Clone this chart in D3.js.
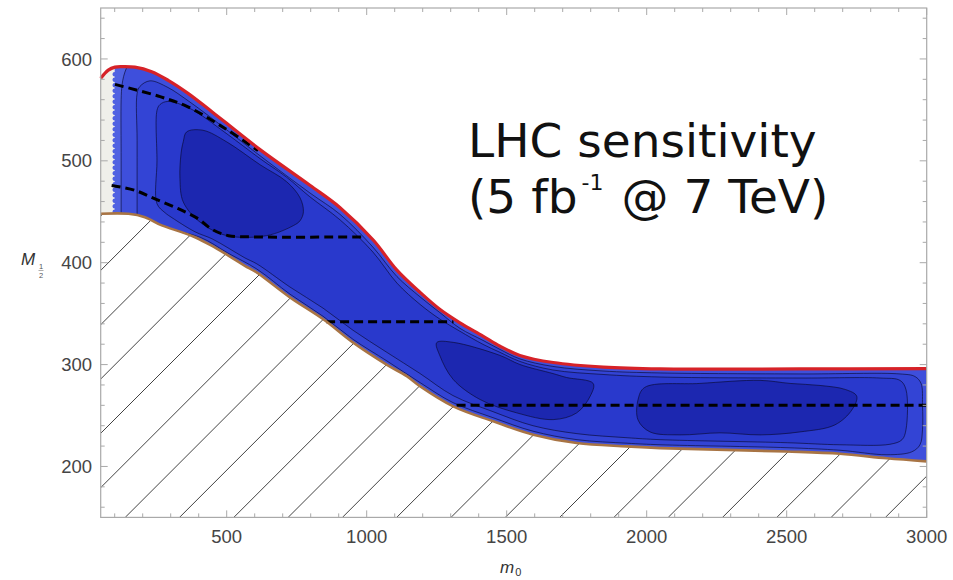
<!DOCTYPE html>
<html><head><meta charset="utf-8">
<script src="https://cdn.jsdelivr.net/npm/d3@7"></script>
<style>body{margin:0;background:#fff;} svg{display:block}</style>
</head><body>
<svg id="chart" width="953" height="580"></svg>
<script>
// ---------------- data (m0, M1/2) ----------------
const xTicks = [500, 1000, 1500, 2000, 2500, 3000];
const yTicks = [200, 300, 400, 500, 600];
const xDomain = [50, 3000];
const yDomain = [150, 650];

// red upper edge of the sensitivity band
const upperBoundary = [[50,581],[77,589],[101,592],[125,592.5],[172,592],[232,587.5],[291,579],[363,566],[434,551],[494,538],[619,511],[797,476],[905,454],[1024,422],[1107,393],[1190,371],[1262,354],[1333,341],[1415,328],[1476,318],[1547,309],[1666,302],[1845,297.5],[2048,295.7],[2548,295.7],[3000,296]];
// brown lower edge (excluded region below)
const lowerBoundary = [[50,448],[149,448],[208,444.7],[268,436.6],[339,430],[387,425],[446,416.7],[506,407],[565,397],[607,390.5],[726,366],[845,344.5],[952,321.5],[1071,300],[1143,288.6],[1190,278.8],[1309,259],[1452,244.3],[1595,231.2],[1750,223],[1929,219.7],[2048,218],[2500,214.7],[2690,212.5],[2857,208],[3000,205]];

// filled contour levels (outer to inner)
const contour1 = [[123,300],[123,420],[123,500],[123,560],[126,574],[132,583],[142,591],[160,600],[400,600],[3010,600],[3010,430],[3010,150],[1500,150],[123,150]];
const contour2 = [[180,300],[180,445],[180,520],[180,566],[190,573],[226,578.5],[290,572],[362,559],[434,544.5],[494,531.7],[619,505],[797,468.5],[905,447.4],[1022,415.4],[1108,386.4],[1190,366.6],[1262,350.9],[1333,335.6],[1415,323.8],[1476,314.9],[1547,305.6],[1665,298.2],[1844,293.7],[2048,291.8],[2548,290.8],[2905,290.8],[2958,288.3],[2980,281.4],[2985,260],[2985,236],[2976,221.3],[2947,214.4],[2858,211.5],[2690,215.9],[2501,218.4],[2048,221.3],[1930,222.8],[1751,226.3],[1594,234.6],[1451,247.9],[1308,262.7],[1190,282.4],[1072,303.6],[951,324.8],[844,347.4],[726,369.1],[608,393.7],[504,409.5],[405,425],[298,432],[226,435],[190,300]];
const contour3 = [[251,457.9],[251,500],[251,549.4],[262,555.3],[290,558.3],[369,551.4],[494,527.8],[619,502.2],[714,483.9],[797,464.7],[905,442],[1022,410.5],[1108,380],[1190,359.2],[1262,344.5],[1333,332.7],[1415,319.9],[1476,312],[1547,303.1],[1665,294.7],[1844,290.3],[2048,287.8],[2548,286.8],[2833,286.8],[2905,284.4],[2926,275.5],[2926,236.1],[2912,226.3],[2869,221.8],[2690,221.3],[2502,223.3],[2048,226.3],[1930,228.2],[1751,232.2],[1594,240],[1451,253.8],[1308,269.6],[1190,291.3],[1072,312],[951,333.7],[844,355.4],[726,376.1],[608,398.8],[565,404.7],[505,414.5],[448,423.4],[387,430.3],[305,444.1],[280,449]];
const island1 = [[357,528.4],[415,530],[500,518.6],[619,496.2],[714,479.5],[762,463.7],[774,450],[762,441.2],[738,436.4],[643,426.6],[500,426.6],[405,439.8],[345,459.5],[333,482.6],[337,507.2],[345,518.9]];
const island2 = [[1250,321.5],[1309,321.8],[1476,309],[1547,300.1],[1665,291.2],[1714,287.3],[1809,281.4],[1798,268.9],[1750,252.6],[1666,246],[1536,252.6],[1405,265.7],[1309,285.4],[1262,308.3]];
const island3 = [[1993,277.6],[2190,281.5],[2405,284.5],[2512,281.5],[2619,279.5],[2709,275.6],[2750,269],[2733,255.6],[2672,240.8],[2547,233.9],[2405,231],[2262,233],[2119,231],[2012,233.9],[1969,245.7],[1969,265.4]];

// dashed lines
const dashed1 = [[101,575],[262,563],[358,553.4],[494,531.8],[612,510]];
const dashed2 = [[89,475.8],[172.5,471],[244,462.6],[327,453],[399,443],[446,433],[506,426.5],[601,425.3],[983,425.3]];
const dashed3 = [[855,342],[1310,342]];
const dashed4 = [[1321,260],[3000,260]];

const bandEdgeM0 = 100;   // left edge of the coloured band

const levelColors = ["#5062e2", "#3e4fdc", "#3344d5", "#2939cc", "#1c27b0"];

// ---------------- drawing ----------------
const svg = d3.select('#chart');
const L = 100.7, R = 926.7, T = 8, B = 517.4;
const x = d3.scaleLinear().domain(xDomain).range([L, R]);
const y = d3.scaleLinear().domain(yDomain).range([B, T]);

const lineCR = d3.line().x(d => x(d[0])).y(d => y(d[1])).curve(d3.curveCatmullRom.alpha(0.5));
const closedCR = d3.line().x(d => x(d[0])).y(d => y(d[1])).curve(d3.curveCatmullRomClosed.alpha(0.5));
const straight = d3.line().x(d => x(d[0])).y(d => y(d[1]));

const upperPath = lineCR(upperBoundary);
const lowerPath = lineCR(lowerBoundary);
const bandPath = upperPath + 'L' + lineCR(lowerBoundary.slice().reverse()).slice(1) + 'Z';
const belowPath = lowerPath + `L${x(xDomain[1])},${y(yDomain[0])}L${x(xDomain[0])},${y(yDomain[0])}Z`;

const defs = svg.append('defs');
defs.append('clipPath').attr('id', 'bandClip').append('path').attr('d', bandPath);
defs.append('clipPath').attr('id', 'belowClip').append('path').attr('d', belowPath);
defs.append('clipPath').attr('id', 'plotClip').append('rect')
  .attr('x', L).attr('y', T).attr('width', R - L).attr('height', B - T);
defs.append('clipPath').attr('id', 'blueClip').append('rect')
  .attr('x', x(bandEdgeM0)).attr('y', T).attr('width', R - x(bandEdgeM0)).attr('height', B - T);

// hatching of the excluded region
const hatch = svg.append('g').attr('clip-path', 'url(#plotClip)')
  .append('g').attr('clip-path', 'url(#belowClip)');
const step = 54.3, c0 = 588.3;
for (let k = -12; k <= 18; k++) {
  const c = c0 + step * k;
  hatch.append('line')
    .attr('x1', c - B).attr('y1', B)
    .attr('x2', c - T).attr('y2', T)
    .attr('stroke', '#111').attr('stroke-width', 0.8);
}

// band
const band = svg.append('g').attr('clip-path', 'url(#bandClip)');
band.append('rect').attr('x', L).attr('y', T).attr('width', R - L).attr('height', B - T).attr('fill', '#efefea');
const blue = band.append('g').attr('clip-path', 'url(#blueClip)');
blue.append('rect').attr('x', L).attr('y', T).attr('width', R - L).attr('height', B - T).attr('fill', levelColors[0]);

const contourStyle = sel => sel.attr('stroke', '#0a0a30').attr('stroke-width', 0.8).attr('stroke-opacity', 0.8);
[[contour1, 1], [contour2, 2], [contour3, 3], [island1, 4], [island2, 4], [island3, 4]].forEach(([pts, lvl]) => {
  blue.append('path').attr('d', closedCR(pts)).attr('fill', levelColors[lvl]).call(contourStyle);
});

// speckled left edge of the coloured band
band.append('line')
  .attr('x1', x(bandEdgeM0)).attr('x2', x(bandEdgeM0))
  .attr('y1', y(lowerBoundary[0][1]) - 2).attr('y2', y(upperBoundary[2][1]) + 4)
  .attr('stroke', levelColors[0]).attr('stroke-width', 4.5)
  .attr('stroke-linecap', 'round').attr('stroke-dasharray', '0 5.5');

// dashed lines
const dashG = svg.append('g').attr('clip-path', 'url(#plotClip)');
[dashed1, dashed2].forEach(d => dashG.append('path').attr('d', lineCR(d)));
[dashed3, dashed4].forEach(d => dashG.append('path').attr('d', straight(d)));
dashG.selectAll('path').attr('fill', 'none').attr('stroke', '#000').attr('stroke-width', 3)
  .attr('stroke-dasharray', '9,5');

// boundaries
svg.append('path').attr('d', lowerPath).attr('fill', 'none').attr('stroke', '#a87444').attr('stroke-width', 2.6);
svg.append('path').attr('d', upperPath).attr('fill', 'none').attr('stroke', '#d62228').attr('stroke-width', 3.2);

// frame and ticks
const frameColor = '#a9a9a9';
const axes = svg.append('g');
axes.append('rect').attr('x', L).attr('y', T).attr('width', R - L).attr('height', B - T)
  .attr('fill', 'none').attr('stroke', frameColor).attr('stroke-width', 1.2);
d3.range(100, 3001, 100).forEach(v => {
  const major = v % 500 === 0;
  const len = major ? 7 : 4;
  axes.append('line').attr('x1', x(v)).attr('x2', x(v)).attr('y1', B).attr('y2', B - len).attr('stroke', frameColor);
  axes.append('line').attr('x1', x(v)).attr('x2', x(v)).attr('y1', T).attr('y2', T + len).attr('stroke', frameColor);
});
d3.range(160, 641, 20).forEach(v => {
  const major = v % 100 === 0;
  const len = major ? 7 : 4;
  axes.append('line').attr('y1', y(v)).attr('y2', y(v)).attr('x1', L).attr('x2', L + len).attr('stroke', frameColor);
  axes.append('line').attr('y1', y(v)).attr('y2', y(v)).attr('x1', R).attr('x2', R - len).attr('stroke', frameColor);
});

const tickFont = "'Liberation Sans', Arial, sans-serif";
axes.selectAll('text.xt').data(xTicks).enter().append('text')
  .attr('x', d => x(d)).attr('y', 543).attr('text-anchor', 'middle')
  .attr('font-family', tickFont).attr('font-size', 18.5).attr('fill', '#454545').text(d => d);
axes.selectAll('text.yt').data(yTicks).enter().append('text')
  .attr('x', 92).attr('y', d => y(d) + 6.6).attr('text-anchor', 'end')
  .attr('font-family', tickFont).attr('font-size', 18.5).attr('fill', '#454545').text(d => d);

// axis titles
axes.append('text').attr('x', 21).attr('y', 265).attr('font-family', tickFont)
  .attr('font-style', 'italic').attr('font-size', 17).attr('fill', '#333').text('M');
axes.append('text').attr('x', 41).attr('y', 268.5).attr('text-anchor', 'middle').attr('font-family', tickFont)
  .attr('font-size', 7.5).attr('fill', '#555').text('1');
axes.append('line').attr('x1', 38.5).attr('x2', 43.5).attr('y1', 270.5).attr('y2', 270.5).attr('stroke', '#777').attr('stroke-width', 0.6);
axes.append('text').attr('x', 41).attr('y', 278).attr('text-anchor', 'middle').attr('font-family', tickFont)
  .attr('font-size', 7.5).attr('fill', '#555').text('2');

const xl = axes.append('text').attr('x', 500).attr('y', 573).attr('font-family', tickFont).attr('fill', '#333');
xl.append('tspan').attr('font-style', 'italic').attr('font-size', 17).text('m');
xl.append('tspan').attr('font-size', 11).attr('dy', 3).attr('dx', 1).text('0');

// annotation
const annFont = "'DejaVu Sans', Verdana, sans-serif";
svg.append('text').attr('x', 468).attr('y', 157).attr('font-family', annFont).attr('font-size', 47)
  .attr('fill', '#111').text('LHC sensitivity');
const a2 = svg.append('text').attr('x', 468).attr('y', 213).attr('font-family', annFont).attr('font-size', 47).attr('fill', '#111');
a2.append('tspan').text('(5 fb');
a2.append('tspan').attr('font-size', 22).attr('dx', 4).attr('dy', -23).text('-1');
a2.append('tspan').attr('dy', 23).attr('dx', 3).text(' @ 7 TeV)');
</script>
</body></html>
